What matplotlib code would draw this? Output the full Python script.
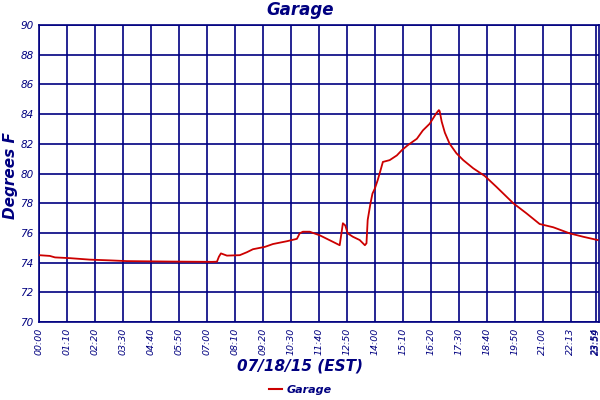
import matplotlib
matplotlib.use("Agg")
import matplotlib.pyplot as plt
from matplotlib.lines import Line2D

# sample index (roughly minutes) and temperature readings
sample_idx = [0, 27, 40, 77, 127, 177, 220, 327, 432, 445, 450, 455, 462, 470,
              502, 520, 535, 565, 585, 620, 645, 652, 660, 677, 685, 702, 720,
              735, 752, 756, 760, 766, 772, 785, 802, 815, 819, 822, 829, 834,
              840, 847, 854, 860, 877, 895, 907, 922, 945, 960, 977, 994, 1000,
              1002, 1007, 1015, 1027, 1044, 1061, 1086, 1115, 1144, 1186, 1219,
              1252, 1286, 1327, 1361, 1397]
temp_f = [74.5, 74.45, 74.35, 74.3, 74.2, 74.15, 74.1, 74.07, 74.05, 74.06,
          74.4, 74.62, 74.55, 74.47, 74.5, 74.7, 74.9, 75.06, 75.25, 75.44,
          75.6, 75.97, 76.08, 76.08, 76.0, 75.84, 75.6, 75.4, 75.17, 75.9,
          76.65, 76.5, 75.97, 75.74, 75.52, 75.17, 75.3, 76.87, 77.99, 78.65,
          78.99, 79.55, 80.2, 80.78, 80.9, 81.22, 81.56, 81.9, 82.34, 82.9,
          83.35, 84.07, 84.27, 84.2, 83.5, 82.75, 82.0, 81.36, 80.9, 80.35,
          79.83, 79.1, 78.0, 77.32, 76.6, 76.38, 75.97, 75.74, 75.52]

tick_pos = [0, 70, 140, 210, 280, 350, 420, 490, 560, 630, 700, 770, 840,
            910, 980, 1050, 1120, 1190, 1260, 1330, 1392, 1395]
tick_labels = ["00:00", "01:10", "02:20", "03:30", "04:40", "05:50", "07:00",
               "08:10", "09:20", "10:30", "11:40", "12:50", "14:00", "15:10",
               "16:20", "17:30", "18:40", "19:50", "21:00", "22:13", "23:54",
               "23:59"]
y_ticks = [70, 72, 74, 76, 78, 80, 82, 84, 86, 88, 90]

navy = "#000080"
red = "#cc0000"

fig = plt.figure(figsize=(6, 4), dpi=100)
ax = fig.add_axes([0.065, 0.195, 0.933, 0.7425])
ax.plot(sample_idx, temp_f, color=red, lw=1.3, zorder=3)
ax.set_xlim(0, 1400)
ax.set_ylim(70, 90)
ax.set_yticks(y_ticks)
ax.set_xticks(tick_pos)
ax.set_xticklabels(tick_labels, rotation=90, fontsize=6.8, color=navy,
                   style="italic")
ax.set_yticklabels([str(v) for v in y_ticks], fontsize=7.5, color=navy,
                   style="italic")
ax.tick_params(length=0, pad=4)
ax.grid(True, color=navy, lw=1.2)
ax.get_xgridlines()[-1].set_visible(False)
ax.set_axisbelow(True)
for s in ax.spines.values():
    s.set_color(navy)
    s.set_linewidth(1.2)

fig.text(0.5, 0.975, "Garage", ha="center", va="center", fontsize=12,
         color=navy, style="italic", fontweight="bold")
fig.text(0.018, 0.56, "Degrees F", ha="center", va="center", rotation=90,
         fontsize=11, color=navy, style="italic", fontweight="bold")
fig.text(0.5, 0.085, "07/18/15 (EST)", ha="center", va="center",
         fontsize=11, color=navy, style="italic", fontweight="bold")

handle = Line2D([], [], color=red, lw=1.5)
fig.legend([handle], ["Garage"], loc="center", bbox_to_anchor=(0.5, 0.025),
           frameon=False,
           prop={"style": "italic", "weight": "bold", "size": 8},
           handlelength=1.2, handletextpad=0.4, labelcolor=navy)

fig.savefig("out.png", dpi=100)
